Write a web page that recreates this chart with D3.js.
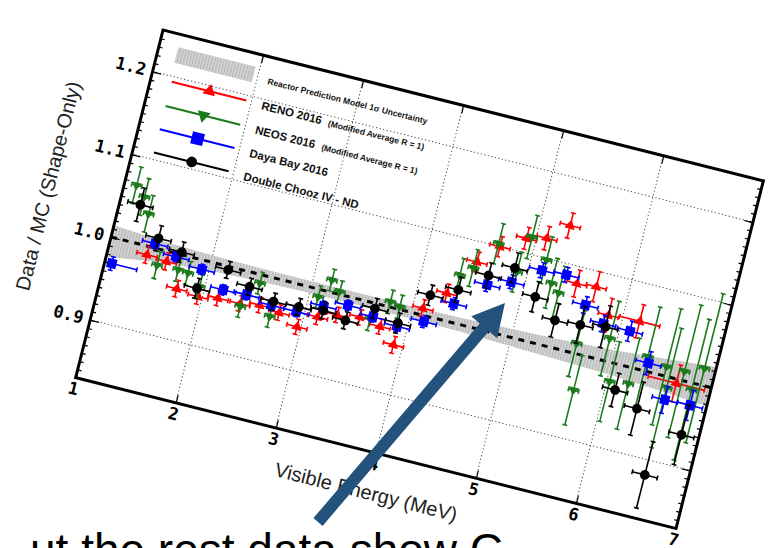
<!DOCTYPE html>
<html>
<head>
<meta charset="utf-8">
<script src="https://cdn.jsdelivr.net/npm/d3@7"></script>
<style>
  body { margin: 0; background: #fff; }
  svg { display: block; }
</style>
</head>
<body>
<svg width="769" height="548"></svg>
<script>
'use strict';

// ---- data ----
var xTicks = [1, 2, 3, 4, 5, 6, 7];
var yTicks = [0.9, 1.0, 1.1, 1.2];

var bandE  = [1.0, 1.5, 2.0, 2.5, 3.0, 3.5, 4.0, 4.5, 5.0, 5.5, 6.0, 6.5, 7.0];
var bandLo = [0.976, 0.985, 0.990, 0.992, 0.993, 0.993, 0.993, 0.992, 0.990, 0.988, 0.986, 0.982, 0.978];
var bandHi = [1.014, 1.010, 1.008, 1.007, 1.007, 1.007, 1.007, 1.008, 1.010, 1.012, 1.015, 1.020, 1.025];
var predE  = [1.0, 7.0];
var predR  = [1.0, 1.0];

var renoE = [1.38, 1.58, 1.74, 1.96, 2.15, 2.37, 2.56, 2.76, 2.96, 3.13, 3.31, 3.53, 3.74,
             3.91, 4.10, 4.29, 4.50, 4.68, 4.91, 5.10, 5.29, 5.49, 5.68, 5.86, 6.17, 6.66];
var renoR = [0.990, 0.988, 0.960, 0.957, 0.961, 0.961, 0.965, 0.962, 0.951, 0.968, 0.976, 0.980, 0.975,
             0.958, 1.008, 1.032, 1.076, 1.100, 1.117, 1.123, 1.144, 1.080, 1.082, 1.053, 1.055, 0.995];
var renoErr = [0.010, 0.010, 0.010, 0.009, 0.009, 0.009, 0.009, 0.009, 0.009, 0.009, 0.009, 0.009, 0.009,
               0.010, 0.010, 0.011, 0.012, 0.012, 0.013, 0.014, 0.015, 0.016, 0.018, 0.020, 0.020, 0.022];
var renoXErr = [0.1, 0.1, 0.1, 0.1, 0.1, 0.1, 0.1, 0.1, 0.1, 0.1, 0.1, 0.1, 0.1,
                0.1, 0.1, 0.1, 0.1, 0.1, 0.1, 0.1, 0.1, 0.1, 0.1, 0.1, 0.2, 0.28];

var neosE = [1.12, 1.22, 1.30, 1.50, 1.71, 1.81, 1.95, 2.38, 2.51, 2.68, 3.09, 3.18, 3.28, 3.63,
             3.78, 3.88, 4.37, 4.48, 4.66, 4.90, 4.96, 5.15, 5.25, 5.34, 5.63, 5.71, 5.93, 6.03,
             6.21, 6.33, 6.53, 6.58, 6.71, 6.82, 6.89];
var neosR = [1.066, 1.055, 1.037, 0.981, 0.982, 0.981, 0.969, 0.958, 0.990, 0.955, 0.991, 1.014, 1.003, 0.981,
             1.006, 1.003, 1.056, 1.068, 1.103, 1.076, 1.120, 1.098, 1.073, 1.064, 1.012, 0.958, 1.027, 0.978,
             0.981, 1.017, 1.011, 0.987, 1.011, 0.992, 1.020];
var neosErr = [0.022, 0.022, 0.022, 0.016, 0.014, 0.014, 0.014, 0.013, 0.013, 0.013, 0.013, 0.013, 0.013, 0.014,
               0.014, 0.014, 0.020, 0.022, 0.024, 0.024, 0.026, 0.028, 0.030, 0.032, 0.040, 0.042, 0.045, 0.048,
               0.055, 0.060, 0.070, 0.072, 0.080, 0.085, 0.090];
var neosXErr = neosE.map(function() { return 0.05; });

var dybE = [1.07, 1.43, 1.66, 1.93, 2.18, 2.41, 2.67, 2.92, 3.16, 3.39, 3.65, 3.90,
            4.14, 4.38, 4.65, 4.87, 5.13, 5.37, 5.62, 5.83, 6.10, 6.35, 6.59, 6.84];
var dybR = [0.970, 1.005, 0.996, 0.989, 0.972, 0.973, 0.968, 0.968, 0.982, 0.990, 0.984, 0.980,
            0.993, 1.022, 1.053, 1.063, 1.085, 1.087, 1.058, 1.042, 1.041, 1.010, 0.973, 0.974];
var dybErr = [0.008, 0.006, 0.006, 0.006, 0.006, 0.006, 0.006, 0.006, 0.006, 0.006, 0.006, 0.006,
              0.007, 0.007, 0.008, 0.008, 0.009, 0.009, 0.010, 0.010, 0.012, 0.014, 0.016, 0.018];
var dybXErr = [0.25, 0.125, 0.125, 0.125, 0.125, 0.125, 0.125, 0.125, 0.125, 0.125, 0.125, 0.125,
               0.125, 0.125, 0.125, 0.125, 0.125, 0.125, 0.125, 0.125, 0.125, 0.125, 0.125, 0.125];

var dcE = [1.20, 1.45, 1.70, 1.93, 2.18, 2.42, 2.68, 2.93, 3.17, 3.40, 3.65, 3.90,
           4.14, 4.39, 4.64, 4.87, 5.13, 5.37, 5.62, 5.86, 6.10, 6.35, 6.58, 6.83];
var dcR = [1.045, 1.012, 1.003, 0.966, 0.996, 0.983, 0.973, 0.974, 0.977, 0.972, 0.994, 0.984,
           1.025, 1.039, 1.064, 1.080, 1.053, 1.032, 1.034, 1.039, 0.970, 0.955, 0.882, 0.938];
var dcErr = [0.020, 0.015, 0.012, 0.012, 0.010, 0.010, 0.010, 0.010, 0.010, 0.010, 0.012, 0.012,
             0.012, 0.015, 0.015, 0.018, 0.018, 0.020, 0.022, 0.025, 0.020, 0.032, 0.040, 0.036];
var dcXErr = dcE.map(function() { return 0.125; });

var legendLabels = ["Reactor Prediction Model 1\u03c3 Uncertainty", "RENO 2016", "NEOS 2016",
                    "Daya Bay 2016", "Double Chooz IV - ND"];
var legendNotes = ["", "(Modified Average R = 1)", "(Modified Average R = 1)", "", ""];

// ---- layout: the slide photo shows the plot tilted ----
var W = 619, H = 358.5;
var originX = 163, originY = 30, tilt = 14.1;

var svg = d3.select("svg");
var defs = svg.append("defs");

defs.append("clipPath").attr("id", "plotClip")
    .append("rect").attr("width", W).attr("height", H);

var hatch = defs.append("pattern")
    .attr("id", "hatch")
    .attr("patternUnits", "userSpaceOnUse")
    .attr("width", 3)
    .attr("height", 10);
hatch.append("rect").attr("width", 3).attr("height", 10).attr("fill", "#d8d8d8");
hatch.append("line")
    .attr("x1", 0.8).attr("x2", 0.8).attr("y1", 0).attr("y2", 10)
    .attr("stroke", "#aaaaaa").attr("stroke-width", 1);

var root = svg.append("g")
    .attr("transform", "translate(" + originX + "," + originY + ") rotate(" + tilt + ")");

var x = d3.scaleLinear().domain([1, 7]).range([0, W]);
var y = d3.scaleLinear().domain([0.83, 1.25]).range([H, 0]);

root.append("rect").attr("width", W).attr("height", H).attr("fill", "#fff");

// grid
var grid = root.append("g")
    .attr("stroke", "#444")
    .attr("stroke-width", 1)
    .attr("stroke-dasharray", "1.2,2.4");
grid.selectAll("line.gx").data(xTicks.slice(1, -1)).join("line")
    .attr("class", "gx")
    .attr("x1", function(d) { return x(d); }).attr("x2", function(d) { return x(d); })
    .attr("y1", 0).attr("y2", H);
grid.selectAll("line.gy").data(yTicks).join("line")
    .attr("class", "gy")
    .attr("x1", 0).attr("x2", W)
    .attr("y1", function(d) { return y(d); }).attr("y2", function(d) { return y(d); });

var plot = root.append("g").attr("clip-path", "url(#plotClip)");

// prediction band + central line
var band = bandE.map(function(e, i) { return {e: e, lo: bandLo[i], hi: bandHi[i]}; });
plot.append("path")
    .datum(band)
    .attr("fill", "url(#hatch)")
    .attr("d", d3.area()
        .x(function(d) { return x(d.e); })
        .y0(function(d) { return y(d.lo); })
        .y1(function(d) { return y(d.hi); }));

var pred = predE.map(function(e, i) { return {e: e, r: predR[i]}; });
plot.append("path")
    .datum(pred)
    .attr("fill", "none")
    .attr("stroke", "#000")
    .attr("stroke-width", 3)
    .attr("stroke-dasharray", "6,6")
    .attr("d", d3.line().x(function(d) { return x(d.e); }).y(function(d) { return y(d.r); }));

function drawSeries(E, R, ye, xe, color, sym, rot, size) {
    var pts = E.map(function(e, i) { return {e: e, r: R[i], ye: ye[i], xe: xe[i]}; });
    var g = plot.append("g").attr("stroke", color).attr("stroke-width", 1.6);
    var cap = 2.5;
    g.selectAll("line.h").data(pts).join("line").attr("class", "h")
        .attr("x1", function(d) { return x(d.e - d.xe); })
        .attr("x2", function(d) { return x(d.e + d.xe); })
        .attr("y1", function(d) { return y(d.r); })
        .attr("y2", function(d) { return y(d.r); });
    g.selectAll("line.v").data(pts).join("line").attr("class", "v")
        .attr("x1", function(d) { return x(d.e); })
        .attr("x2", function(d) { return x(d.e); })
        .attr("y1", function(d) { return y(d.r - d.ye); })
        .attr("y2", function(d) { return y(d.r + d.ye); });
    // caps
    [-1, 1].forEach(function(s) {
        g.selectAll("line.ch" + (s + 1)).data(pts).join("line").attr("class", "ch" + (s + 1))
            .attr("x1", function(d) { return x(d.e + s * d.xe); })
            .attr("x2", function(d) { return x(d.e + s * d.xe); })
            .attr("y1", function(d) { return y(d.r) - cap; })
            .attr("y2", function(d) { return y(d.r) + cap; });
        g.selectAll("line.cv" + (s + 1)).data(pts).join("line").attr("class", "cv" + (s + 1))
            .attr("x1", function(d) { return x(d.e) - cap; })
            .attr("x2", function(d) { return x(d.e) + cap; })
            .attr("y1", function(d) { return y(d.r + s * d.ye); })
            .attr("y2", function(d) { return y(d.r + s * d.ye); });
    });
    plot.append("g").selectAll("path").data(pts).join("path")
        .attr("fill", color)
        .attr("d", d3.symbol().type(sym).size(size))
        .attr("transform", function(d) {
            return "translate(" + x(d.e) + "," + y(d.r) + ") rotate(" + rot + ")";
        });
}

drawSeries(renoE, renoR, renoErr, renoXErr, "#ff0000", d3.symbolTriangle, 0, 50);
drawSeries(neosE, neosR, neosErr, neosXErr, "#1c7a1c", d3.symbolTriangle, 180, 42);
drawSeries(dybE, dybR, dybErr, dybXErr, "#0000ff", d3.symbolSquare, 0, 90);
drawSeries(dcE, dcR, dcErr, dcXErr, "#000000", d3.symbolCircle, 0, 75);

// axes (ticks point inward)
function styleTicks(g) {
    g.select(".domain").remove();
    g.selectAll("line").attr("stroke", "#000").attr("stroke-width", 1.2);
    g.attr("font-family", "'DejaVu Sans Mono', monospace")
        .attr("font-size", 17)
        .attr("font-weight", "bold");
}
var minorY = d3.range(84, 125).map(function(v) { return v / 100; });

root.append("g").attr("transform", "translate(0," + H + ")")
    .call(d3.axisBottom(x).tickValues(xTicks).tickFormat(d3.format("d")).tickSize(-8).tickPadding(5))
    .call(styleTicks);
root.append("g")
    .call(d3.axisTop(x).tickValues(xTicks).tickFormat("").tickSize(-8))
    .call(styleTicks);
root.append("g")
    .call(d3.axisLeft(y).tickValues(yTicks).tickFormat(d3.format(".1f")).tickSize(-9).tickPadding(7))
    .call(styleTicks);
root.append("g")
    .call(d3.axisLeft(y).tickValues(minorY).tickFormat("").tickSize(-4))
    .call(styleTicks);
root.append("g").attr("transform", "translate(" + W + ",0)")
    .call(d3.axisRight(y).tickValues(yTicks).tickFormat("").tickSize(-9))
    .call(styleTicks);
root.append("g").attr("transform", "translate(" + W + ",0)")
    .call(d3.axisRight(y).tickValues(minorY).tickFormat("").tickSize(-4))
    .call(styleTicks);

root.append("rect")
    .attr("width", W).attr("height", H)
    .attr("fill", "none").attr("stroke", "#000").attr("stroke-width", 3);

// axis titles
root.append("text")
    .attr("transform", "translate(-73.5," + (H / 2) + ") rotate(-90)")
    .attr("text-anchor", "middle")
    .attr("dy", "0.35em")
    .attr("font-family", "'Liberation Sans', Arial, sans-serif")
    .attr("font-size", 20)
    .attr("fill", "#222")
    .text("Data / MC (Shape-Only)");
root.append("text")
    .attr("x", W / 2)
    .attr("y", H + 40)
    .attr("text-anchor", "middle")
    .attr("dy", "0.35em")
    .attr("font-family", "'Liberation Sans', Arial, sans-serif")
    .attr("font-size", 20)
    .attr("fill", "#222")
    .text("Visible Energy (MeV)");

// legend
var legendRows = [21, 48, 73, 97, 121];
var legendColors = [null, "#ff0000", "#1c7a1c", "#0000ff", "#000000"];
var legendSyms = [null, d3.symbolTriangle, d3.symbolTriangle, d3.symbolSquare, d3.symbolCircle];
var legendRot = [0, 0, 180, 0, 0];
var legendSize = [0, 70, 75, 150, 90];
var lg = root.append("g");

lg.append("rect")
    .attr("x", 19).attr("y", legendRows[0] - 8)
    .attr("width", 80).attr("height", 16)
    .attr("fill", "url(#hatch)");

legendLabels.forEach(function(label, i) {
    var ry = legendRows[i];
    if (i > 0) {
        lg.append("line")
            .attr("x1", 21).attr("x2", 98).attr("y1", ry).attr("y2", ry)
            .attr("stroke", legendColors[i]).attr("stroke-width", 2);
        lg.append("path")
            .attr("d", d3.symbol().type(legendSyms[i]).size(legendSize[i]))
            .attr("fill", legendColors[i])
            .attr("transform", "translate(60," + ry + ") rotate(" + legendRot[i] + ")");
    }
    var t = lg.append("text")
        .attr("x", 114)
        .attr("y", ry + (i === 0 ? 6 : 5))
        .attr("font-family", "'Liberation Sans', Arial, sans-serif")
        .attr("font-weight", "bold")
        .attr("font-size", i === 0 ? 8.5 : 11.5)
        .attr("fill", "#111")
        .text(label);
    if (legendNotes[i]) {
        t.append("tspan")
            .attr("dx", 7)
            .attr("font-size", 8.5)
            .text(legendNotes[i]);
    }
});

// slide annotation: arrow and the cut-off line of slide text
var arrowTail = [318, 522], arrowTip = [505, 303];
var ax = arrowTip[0] - arrowTail[0], ay = arrowTip[1] - arrowTail[1];
var alen = Math.sqrt(ax * ax + ay * ay);
var ux = ax / alen, uy = ay / alen, nx = -uy, ny = ux;
var headLen = 32, headHalf = 17, shaftHalf = 6;
var bx = arrowTip[0] - headLen * ux, by = arrowTip[1] - headLen * uy;
var arrowPts = [
    [arrowTail[0] + shaftHalf * nx, arrowTail[1] + shaftHalf * ny],
    [bx + shaftHalf * nx, by + shaftHalf * ny],
    [bx + headHalf * nx, by + headHalf * ny],
    arrowTip,
    [bx - headHalf * nx, by - headHalf * ny],
    [bx - shaftHalf * nx, by - shaftHalf * ny],
    [arrowTail[0] - shaftHalf * nx, arrowTail[1] - shaftHalf * ny]
];
svg.append("polygon")
    .attr("points", arrowPts.map(function(p) { return p.join(","); }).join(" "))
    .attr("fill", "#23527c");

svg.append("text")
    .attr("x", 30)
    .attr("y", 566)
    .attr("font-family", "'Liberation Sans', Arial, sans-serif")
    .attr("font-size", 46)
    .attr("fill", "#000")
    .text("ut the rest data show C");
</script>
</body>
</html>
